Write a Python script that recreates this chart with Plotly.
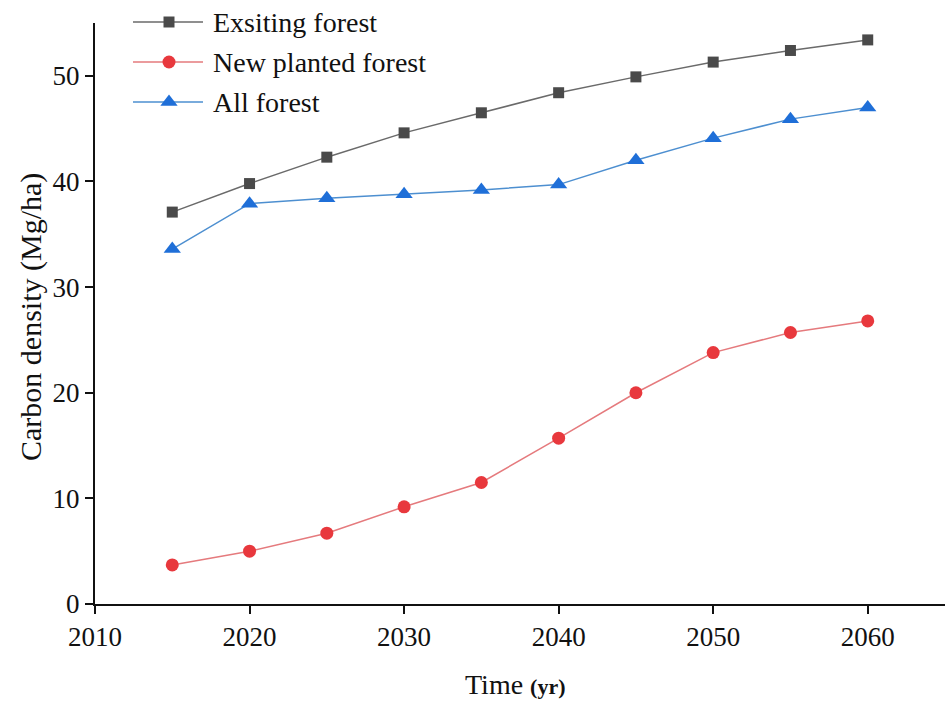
import plotly.graph_objects as go

# Simulated carbon density by forest type
years = [2015, 2020, 2025, 2030, 2035, 2040, 2045, 2050, 2055, 2060]
existing_forest = [37.1, 39.8, 42.3, 44.6, 46.5, 48.4, 49.9, 51.3, 52.4, 53.4]
new_planted_forest = [3.7, 5.0, 6.7, 9.2, 11.5, 15.7, 20.0, 23.8, 25.7, 26.8]
all_forest = [33.6, 37.9, 38.4, 38.8, 39.2, 39.7, 42.0, 44.1, 45.9, 47.0]

series_names = ["Exsiting forest", "New planted forest", "All forest"]
x_ticks = [2010, 2020, 2030, 2040, 2050, 2060]
y_ticks = [0, 10, 20, 30, 40, 50]

FONT = "Liberation Serif, DejaVu Serif, serif"

styles = [
    dict(line=dict(color="#6a6a6a", width=1.5),
         marker=dict(symbol="square", size=11, color="#4a4a4a")),
    dict(line=dict(color="#e57a7d", width=1.5),
         marker=dict(symbol="circle", size=13, color="#e8383d")),
    dict(line=dict(color="#4d8fd0", width=1.5),
         marker=dict(symbol="triangle-up", size=15, color="#1f6fd8")),
]

W, H = 948, 704
L, R, B = 95, 945, 604   # plot area edges in pixels
TOP = 23                 # top of the y axis line

fig = go.Figure()
for name, vals, st in zip(series_names, [existing_forest, new_planted_forest, all_forest], styles):
    fig.add_trace(go.Scatter(x=years, y=vals, mode="lines+markers", name=name,
                             line=st["line"], marker=st["marker"],
                             showlegend=False, cliponaxis=False))

# Legend drawn on a separate axis pair measured in pixels
leg_rows = [22, 62, 102]
for name, st, yy in zip(series_names, styles, leg_rows):
    fig.add_trace(go.Scatter(x=[133, 203], y=[yy, yy], mode="lines", line=st["line"],
                             xaxis="x2", yaxis="y2", showlegend=False,
                             hoverinfo="skip", cliponaxis=False))
    fig.add_trace(go.Scatter(x=[169], y=[yy], mode="markers", marker=st["marker"],
                             xaxis="x2", yaxis="y2", showlegend=False,
                             hoverinfo="skip", cliponaxis=False))
    fig.add_annotation(x=211, y=yy, xref="x2", yref="y2", text=name,
                       showarrow=False, xanchor="left", yanchor="middle",
                       font=dict(family=FONT, size=28, color="#111"))

axis_common = dict(showgrid=False, zeroline=False, showline=True, linecolor="#111",
                   linewidth=2, ticks="outside", ticklen=8, tickwidth=2,
                   tickcolor="#111", tickfont=dict(family=FONT, size=27, color="#111"))

fig.update_layout(
    width=W, height=H,
    margin=dict(l=L, r=W - R, t=0, b=H - B),
    paper_bgcolor="white", plot_bgcolor="rgba(0,0,0,0)",
    xaxis=dict(range=[2010, 2065], tickvals=x_ticks, **axis_common),
    yaxis=dict(range=[0, 55], tickvals=y_ticks, domain=[0, (B - TOP) / B], **axis_common),
    xaxis2=dict(range=[L, R], domain=[0, 1], anchor="y2", visible=False, fixedrange=True),
    yaxis2=dict(range=[B, 0], domain=[0, 1], anchor="x2", visible=False, fixedrange=True),
    showlegend=False,
)

# Axis titles
fig.add_annotation(x=(515 - L) / (R - L), y=(B - 684) / B, xref="paper", yref="paper",
                   text="Time <b><span style='font-size:22px'>(yr)</span></b>",
                   showarrow=False, xanchor="center", yanchor="middle",
                   font=dict(family=FONT, size=28, color="#111"))
fig.add_annotation(x=(31 - L) / (R - L), y=(B - 317) / B, xref="paper", yref="paper",
                   text="Carbon density (Mg/ha)", textangle=-90,
                   showarrow=False, xanchor="center", yanchor="middle",
                   font=dict(family=FONT, size=30, color="#111"))

fig.write_html("out.html")
